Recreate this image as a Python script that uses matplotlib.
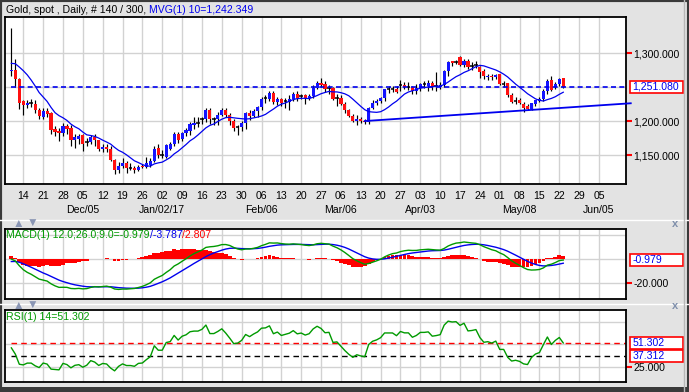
import numpy as np
import pandas as pd
import matplotlib
matplotlib.use("Agg")
import matplotlib.pyplot as plt
from matplotlib.patches import Rectangle
from matplotlib.ticker import FuncFormatter

plt.rcParams['font.family'] = ['Liberation Sans', 'DejaVu Sans']

W, H = 689, 392
FS = 7.6
BG = '#e3e3e3'
GRID = '#d2d2d2'
UP = '#1414ff'
DOWN = '#ff1010'
GREEN = '#009a00'

# Gold spot, daily bars from Nov 9 2016 to May 23 2017 (140 bars)
first_day = "2016-11-09"
n_future = 13  # empty trading days right of the last bar

opens = [1274, 1275, 1262, 1230, 1224, 1227, 1226, 1216, 1207, 1215,
         1212, 1189, 1186, 1183, 1193, 1190, 1173, 1174, 1180, 1170,
         1170, 1177, 1172, 1159, 1162, 1160, 1143, 1128, 1135, 1139,
         1132, 1132, 1129, 1134.5, 1133, 1136, 1141, 1161, 1150, 1148,
         1160, 1166, 1182, 1174, 1183, 1186, 1194, 1198, 1203, 1203,
         1217, 1203, 1203, 1210, 1217, 1210, 1201, 1191, 1191, 1197,
         1212, 1208, 1215, 1221, 1234, 1233, 1241, 1228, 1233, 1230,
         1228, 1233, 1240, 1237, 1238, 1234, 1237, 1249, 1257, 1255,
         1249, 1249, 1234, 1234, 1226, 1217, 1208, 1200, 1204, 1201,
         1199, 1220, 1227, 1230, 1234, 1247, 1247, 1248, 1253, 1253.5,
         1251, 1251, 1245, 1249, 1255, 1252, 1257, 1252, 1250, 1253,
         1274, 1288, 1287, 1294, 1283, 1289, 1281, 1283, 1280, 1274,
         1265, 1267, 1265, 1269, 1255, 1256, 1239, 1230, 1231, 1226,
         1222, 1218, 1226, 1230, 1233, 1245, 1261, 1250, 1255, 1263]
highs = [1337, 1291, 1264, 1232, 1232, 1233, 1232, 1220, 1220, 1220,
         1214, 1193, 1190, 1197, 1196, 1194, 1182, 1181, 1181, 1176,
         1180, 1181, 1173, 1167, 1166, 1164, 1145, 1140, 1146, 1141,
         1138, 1135, 1136, 1137, 1148, 1146, 1163, 1166, 1158, 1167,
         1170, 1184, 1185, 1185, 1190, 1199, 1207, 1206, 1206, 1219,
         1219, 1207, 1213, 1220, 1219, 1212, 1203, 1194, 1200, 1214,
         1216, 1218, 1223, 1236, 1238, 1245, 1244, 1236, 1235, 1235,
         1238, 1243, 1245, 1240, 1240, 1240, 1253, 1260, 1264, 1260,
         1254, 1251, 1240, 1238, 1228, 1218, 1211, 1209, 1207, 1204,
         1221, 1231, 1233, 1236, 1248, 1252, 1252, 1252, 1261, 1258,
         1258, 1252, 1255, 1257, 1259, 1261, 1259, 1273, 1258, 1275,
         1288, 1289, 1290, 1296, 1292, 1291, 1287, 1289, 1282, 1277,
         1270, 1270, 1270, 1270, 1259, 1257, 1241, 1236, 1234, 1228,
         1226, 1227, 1232, 1236, 1247, 1262, 1266, 1258, 1263, 1264]
lows = [1266, 1251, 1218, 1209, 1219, 1221, 1212, 1203, 1204, 1207,
        1181, 1178, 1171, 1179, 1182, 1164, 1161, 1167, 1156, 1163,
        1166, 1164, 1157, 1155, 1155, 1141, 1122, 1124, 1131, 1124,
        1129, 1124, 1127, 1131, 1131, 1133, 1140, 1146, 1146, 1146,
        1158, 1163, 1168, 1171, 1179, 1180, 1189, 1192, 1196, 1199,
        1196, 1194, 1195, 1208, 1207, 1195, 1186, 1180, 1186, 1189,
        1202, 1206, 1207, 1216, 1227, 1230, 1226, 1224, 1222, 1220,
        1216, 1230, 1230, 1233, 1226, 1231, 1235, 1248, 1251, 1243,
        1240, 1232, 1223, 1224, 1212, 1206, 1199, 1194, 1198, 1196,
        1196, 1218, 1224, 1227, 1230, 1242, 1243, 1242, 1245, 1247,
        1246, 1240, 1240, 1245, 1249, 1244, 1246, 1245, 1248, 1251,
        1267, 1281, 1284, 1281, 1280, 1277, 1276, 1278, 1264, 1262,
        1261, 1261, 1262, 1254, 1251, 1236, 1227, 1225, 1226, 1213,
        1216, 1216, 1223, 1228, 1230, 1240, 1244, 1247, 1252, 1249]
closes = [1276, 1262, 1227, 1224, 1227, 1227, 1216, 1208, 1215, 1211,
          1187, 1185, 1183, 1193, 1188, 1173, 1177, 1178, 1167, 1170,
          1177, 1172, 1159, 1162, 1160, 1143, 1128, 1135, 1139, 1132,
          1132, 1129, 1133, 1133.5, 1138, 1142, 1160, 1150, 1150, 1165,
          1167, 1182, 1173, 1183, 1187, 1196, 1198, 1198, 1203, 1217,
          1203, 1203, 1209, 1217, 1210, 1201, 1190, 1191, 1197, 1212,
          1208, 1215, 1221, 1233, 1234, 1241, 1228, 1233, 1227, 1230,
          1233, 1240, 1235, 1237, 1234, 1237, 1249, 1257, 1254, 1248,
          1249, 1233, 1234, 1226, 1217, 1208, 1200, 1204, 1201, 1199,
          1220, 1227, 1230, 1235, 1247, 1247, 1247, 1243, 1253, 1251,
          1251, 1245, 1248.5, 1255, 1255, 1256, 1251, 1252, 1253.5, 1274,
          1287, 1286, 1287, 1283, 1289, 1280, 1281, 1283, 1273, 1266,
          1267, 1265, 1268, 1255, 1255, 1239, 1229, 1230, 1227, 1220,
          1218, 1226.5, 1231, 1233, 1245, 1260, 1246, 1255, 1262, 1251.08]

# closes before the first visible bar (Sep 19 .. Nov 8 2016), indicator warm-up only
prior_closes = [1314, 1315, 1336, 1337, 1338, 1338, 1326, 1322, 1322, 1316,
                1313, 1269, 1267, 1253, 1257, 1259, 1253, 1255, 1257, 1252,
                1259, 1262, 1269, 1266, 1267, 1264, 1273, 1267, 1267, 1276,
                1277, 1289, 1304, 1303, 1304, 1281, 1275]

ma_len = 10
macd_fast, macd_slow, macd_signal = 12, 26, 9
rsi_len = 14

# readouts shown in the chart
ma_readout = 1242.349
macd_readout = (-0.979, -3.787, 2.807)
rsi_readout = 51.302
rsi_marker = 37.312

# hand drawn support line: (bar index, price) anchors
trend_bars = [89, 129]
trend_prices = [1200.4, 1216.0]

price_ticks = [1150, 1200, 1300]
price_grid = [1150, 1200, 1250, 1300]
macd_ticks = [-20]
macd_grid = [-20, 0, 20]
rsi_ticks = [25]
rsi_grid = [25, 50, 75]

month_labels = [("2016-12-05", "Dec/05"), ("2017-01-02", "Jan/02/17"),
                ("2017-02-06", "Feb/06"), ("2017-03-06", "Mar/06"),
                ("2017-04-03", "Apr/03"), ("2017-05-08", "May/08"),
                ("2017-06-05", "Jun/05")]

# ---- indicators
n = len(closes)
s = pd.Series(prior_closes + closes, dtype=float)
ma = s.rolling(ma_len).mean().values[-n:]
ema_f = s.ewm(span=macd_fast, adjust=False).mean()
ema_s = s.ewm(span=macd_slow, adjust=False).mean()
macd = ema_f - ema_s
signal = macd.ewm(span=macd_signal, adjust=False).mean()
hist = (macd - signal).values[-n:]
macd = macd.values[-n:]
signal = signal.values[-n:]
delta = s.diff().fillna(0)
gain = delta.clip(lower=0).ewm(alpha=1 / rsi_len, adjust=False).mean()
loss = (-delta.clip(upper=0)).ewm(alpha=1 / rsi_len, adjust=False).mean()
rsi = (100 - 100 / (1 + gain / loss)).values[-n:]

dates = pd.bdate_range(first_day, periods=n + n_future)
monday_idx = [i for i, d in enumerate(dates) if d.weekday() == 0]
monday_lab = [dates[i].strftime('%d') for i in monday_idx]

# ---- figure
fig = plt.figure(figsize=(W / 100, H / 100), dpi=100, facecolor=BG)


def box(left, top, right, bottom):
    return [left / W, 1 - bottom / H, (right - left) / W, (bottom - top) / H]


ax_p = fig.add_axes(box(5, 17, 626, 184))
ax_m = fig.add_axes(box(5, 229.3, 626, 299.3))
ax_r = fig.add_axes(box(5, 310, 626, 381.7))
XMIN, XMAX = -1.6, 154.8

fmt = FuncFormatter(lambda v, p: f"{v:,.3f}")
for ax in (ax_p, ax_m, ax_r):
    ax.set_facecolor('white')
    ax.set_xlim(XMIN, XMAX)
    for sp in ax.spines.values():
        sp.set_color('black')
        sp.set_linewidth(1.3)
    ax.set_xticks(monday_idx)
    ax.grid(axis='x', color=GRID, lw=1)
    ax.set_axisbelow(True)
    ax.yaxis.tick_right()
    ax.yaxis.set_major_formatter(fmt)
    ax.tick_params(axis='y', colors='red', labelcolor='black', length=4,
                   width=1.5, pad=1.5, labelsize=FS)
    ax.tick_params(axis='x', length=0, labelsize=FS, pad=5)

ax_p.set_xticklabels(monday_lab)
ax_m.tick_params(axis='x', labelbottom=False)
ax_r.tick_params(axis='x', labelbottom=False)

# ---- price panel
ax_p.set_ylim(1107.8, 1353.4)
ax_p.set_yticks(price_ticks)
for g in price_grid:
    ax_p.axhline(g, color=GRID, lw=1, zorder=0)

x = np.arange(n)
o = np.array(opens, float)
c = np.array(closes, float)
hi = np.array(highs, float)
lo = np.array(lows, float)
up, down, flat = c > o, c < o, c == o
body = np.maximum(np.abs(c - o), 1.4)
bottom = np.minimum(o, c)
ax_p.vlines(x, lo, hi, color='black', lw=0.85, zorder=2)
ax_p.bar(x[up], body[up], bottom=bottom[up], width=0.8, color=UP, zorder=3)
ax_p.bar(x[down], body[down], bottom=bottom[down], width=0.8, color=DOWN, zorder=3)
ax_p.hlines(c[flat], x[flat] - 0.45, x[flat] + 0.45, color='black', lw=1.1, zorder=3)

ax_p.plot(x, ma, color='#0000ee', lw=0.9, zorder=4)
slope = (trend_prices[1] - trend_prices[0]) / (trend_bars[1] - trend_bars[0])
tx = np.array([trend_bars[0], XMAX + 1.2])
ax_p.plot(tx, trend_prices[0] + slope * (tx - trend_bars[0]), color='#0000ee',
          lw=1.3, zorder=4, clip_on=False)
ax_p.hlines(c[-1], 0, XMAX, color='#0000ee', lw=1.2, linestyles=(0, (3, 2)), zorder=4)

month_pos = [dates.get_loc(pd.Timestamp(d)) for d, _ in month_labels]
for pos, (_, lab) in zip(month_pos, month_labels):
    ax_p.text(pos, -0.157, lab, transform=ax_p.get_xaxis_transform(),
              ha='center', va='center', fontsize=FS)

# ---- MACD panel
ax_m.set_ylim(-34.0, 24.8)
ax_m.set_yticks(macd_ticks)
for g in macd_grid:
    ax_m.axhline(g, color=GRID, lw=1, zorder=0)
ax_m.bar(x, hist, width=0.95, color='red', zorder=2)
ax_m.plot(x, signal, color='#0000ee', lw=1, zorder=3)
ax_m.plot(x, macd, color=GREEN, lw=1, zorder=3)

# ---- RSI panel
ax_r.set_ylim(8.3, 88)
ax_r.set_yticks(rsi_ticks)
for g in rsi_grid:
    ax_r.axhline(g, color=GRID, lw=1, zorder=0)
ax_r.hlines(rsi_readout, 0, XMAX, color='red', lw=1, linestyles=(0, (4, 3)), zorder=2)
ax_r.hlines(rsi_marker, 0, XMAX, color='black', lw=1, linestyles=(0, (4, 3)), zorder=2)
ax_r.plot(x, rsi, color=GREEN, lw=1, zorder=3)


# ---- value tags at the right edge
def value_tag(ax, value, text):
    y = ax.transData.transform((0, value))[1]
    x1 = ax.get_position().x1 * W
    fig.patches.append(Rectangle(((x1 + 4) / W, (y - 6) / H), 53 / W, 12 / H,
                                 transform=fig.transFigure, facecolor='white',
                                 edgecolor='red', lw=1.2))
    fig.text((x1 + 6.5) / W, y / H, text, color='#0000ee', fontsize=FS,
             va='center', ha='left')


value_tag(ax_p, c[-1], f"{c[-1]:,.3f}")
value_tag(ax_m, macd_readout[0], f"{macd_readout[0]:.3f}")
value_tag(ax_r, rsi_readout, f"{rsi_readout:.3f}")
value_tag(ax_r, rsi_marker, f"{rsi_marker:.3f}")

# ---- panel captions
renderer = fig.canvas.get_renderer()


def caption(x0, y0, parts):
    for txt, col in parts:
        t = fig.text(x0 / W, 1 - y0 / H, txt, color=col, fontsize=FS,
                     va='center', ha='left')
        x0 += t.get_window_extent(renderer).width


caption(6, 10, [("Gold, spot , Daily, # 140 / 300, ", 'black'),
                (f"MVG(1) {ma_len}={ma_readout:,.3f}", '#0000ee')])
caption(6, 235.5, [(f"MACD(1) {macd_fast:.1f};{macd_slow:.1f};{macd_signal:.1f}="
                    f"{macd_readout[0]:.3f}", GREEN),
                   (f"/{macd_readout[1]:.3f}", '#0000ee'),
                   (f"/{macd_readout[2]:.3f}", 'red')])
caption(6, 317, [(f"RSI(1) {rsi_len}={rsi_readout:.3f}", GREEN)])

# ---- window chrome: separators, arrows, close buttons, frame
for ysep in (219.5, 303.5):
    fig.add_artist(plt.Line2D([0, 1], [1 - ysep / H] * 2, color='white', lw=1))
for ya in (224, 306):
    fig.text(18 / W, 1 - ya / H, "\u25b2", color='#8a96b4', fontsize=8.5, ha='center', va='center')
    fig.text(32 / W, 1 - ya / H, "\u25bc", color='#8a96b4', fontsize=8.5, ha='center', va='center')
    fig.text(675 / W, 1 - ya / H, "x", color='#7f8fab', fontsize=8, weight='bold',
             ha='center', va='center')
fig.add_artist(plt.Line2D([684 / W] * 2, [0, 1], color='#b8b8b8', lw=1))
fig.patches.append(Rectangle((0, 0), 1, 1, transform=fig.transFigure, fill=False,
                             edgecolor='#3a3a3a', lw=3))
fig.patches.append(Rectangle((0, 0), 1, 5 / H, transform=fig.transFigure,
                             facecolor='#3a3a3a', edgecolor='none'))

fig.savefig("out.png", dpi=100, facecolor=BG)
